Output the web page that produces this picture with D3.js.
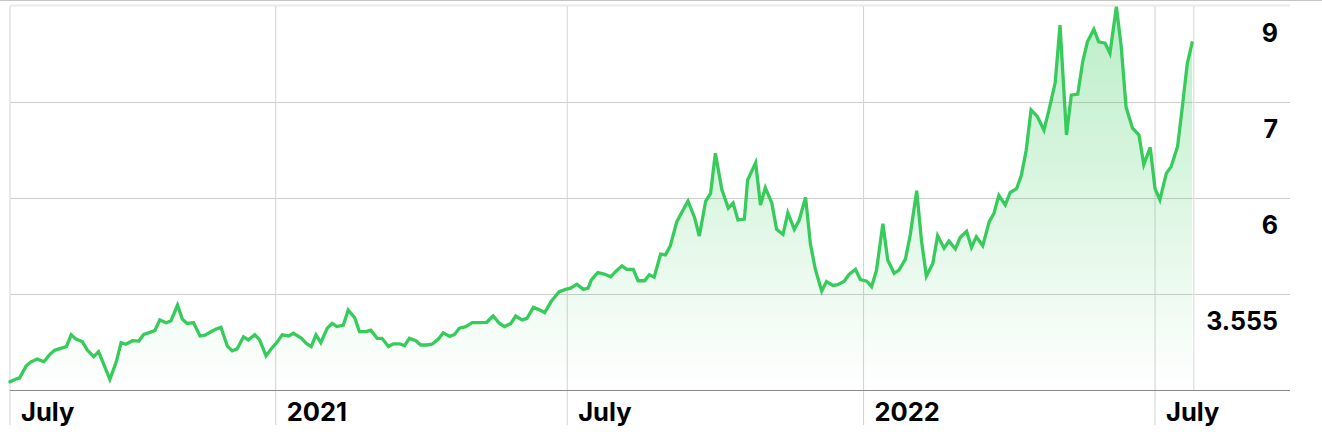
<!DOCTYPE html>
<html><head><meta charset="utf-8">
<script src="https://cdn.jsdelivr.net/npm/d3@7"></script>
<style>html,body{margin:0;padding:0;background:#fff;overflow:hidden}</style>
</head><body><svg id="chart" width="1322" height="438"></svg>
<script>
// ---- data ----
const startDate = "2020-07-20";
const endDay = 735; // last day of the time window
const dayOffsets = [0,3,6,10,13,17,21,25,28,32,35,38,41,45,48,52,55,59,62,66,69,72,76,80,83,86,90,93,97,100,104,107,110,114,118,121,124,128,131,135,138,141,145,148,152,155,159,162,166,169,173,176,181,184,187,190,193,197,200,203,207,210,214,217,221,224,228,231,235,238,242,245,248,252,255,259,262,266,269,273,276,279,283,287,291,296,300,304,307,311,314,318,321,325,328,332,336,341,345,348,352,356,359,361,365,369,373,376,380,383,387,390,394,397,400,404,407,410,414,417,421,425,428,432,435,438,442,446,449,452,456,458,463,466,469,473,476,480,483,487,490,494,497,500,504,507,511,514,518,521,525,528,532,535,538,542,545,549,552,556,559,563,566,569,573,576,580,583,587,590,594,597,600,604,608,611,614,618,621,625,628,631,634,638,642,645,649,652,656,659,663,666,669,673,676,680,683,687,690,693,697,701,704,708,711,714,718,721,725,728,731,734];
const prices = [1.32,1.38,1.42,1.72,1.83,1.90,1.83,2.03,2.13,2.18,2.22,2.52,2.41,2.34,2.13,1.96,2.09,1.69,1.38,1.83,2.32,2.28,2.37,2.36,2.53,2.57,2.63,2.90,2.83,2.88,3.28,2.92,2.81,2.83,2.49,2.51,2.58,2.67,2.71,2.23,2.11,2.16,2.47,2.39,2.52,2.39,1.98,2.15,2.34,2.52,2.49,2.56,2.43,2.30,2.22,2.52,2.32,2.69,2.81,2.73,2.77,3.15,2.96,2.60,2.60,2.64,2.43,2.43,2.22,2.29,2.29,2.24,2.43,2.37,2.26,2.26,2.28,2.41,2.57,2.48,2.53,2.69,2.73,2.83,2.83,2.84,3.00,2.81,2.73,2.81,3.00,2.90,2.94,3.22,3.17,3.09,3.37,3.62,3.68,3.71,3.81,3.68,3.71,3.92,4.11,4.07,4.00,4.13,4.28,4.19,4.19,3.90,3.90,4.05,3.99,4.58,4.56,4.79,5.40,5.63,5.93,5.52,5.04,5.93,6.05,6.47,6.09,5.75,5.88,5.45,5.47,6.19,6.37,5.83,6.11,5.89,5.21,5.08,5.63,5.21,5.44,6.01,4.84,4.20,3.64,3.88,3.78,3.80,3.89,4.06,4.19,3.93,3.89,3.75,4.16,5.35,4.43,4.09,4.17,4.45,5.07,6.08,4.91,4.02,4.34,5.05,4.73,4.91,4.71,5.00,5.16,4.75,5.02,4.79,5.40,5.62,6.03,5.83,6.06,6.10,6.24,6.50,6.92,6.85,6.71,6.91,7.41,8.61,6.66,7.15,7.17,7.83,8.26,8.52,8.26,8.23,8.02,8.99,8.16,6.95,6.73,6.66,6.35,6.53,6.10,5.96,6.26,6.33,6.54,6.96,7.80,8.24];
const xTickDates = ["2020-07-20","2021-01-01","2021-07-01","2022-01-01","2022-07-01"];
const xTickLabels = ["July","2021","July","2022","July"];
const yTickValues = [9, 7, 6, 3.555];
const yDomain = [1.11, 3.555, 6, 7, 9];

// ---- layout ----
const W = 1322, H = 438;
const pLeft = 10, pRight = 1193.7, gridRight = 1290;
const pTop = 6.3, pBottom = 390;
const green = "#36cb5a";

const parse = d3.utcParse("%Y-%m-%d");
const t0 = parse(startDate);
const x = d3.scaleUtc().domain([t0, d3.utcDay.offset(t0, endDay)]).range([pLeft, pRight]);
const y = d3.scaleLinear().domain(yDomain).range([pBottom, 294.3, 198.3, 102.3, pTop]);

const data = dayOffsets.map((d, i) => ({date: d3.utcDay.offset(t0, d), v: prices[i]}));

const svg = d3.select("#chart");
const font = "Inter, 'Noto Sans', sans-serif";

// top border
svg.append("line").attr("x1", 0).attr("x2", W).attr("y1", 0.5).attr("y2", 0.5)
  .attr("stroke", "#c4c4c4").attr("stroke-width", 1);
svg.append("line").attr("x1", pLeft).attr("x2", gridRight).attr("y1", pTop - 0.8).attr("y2", pTop - 0.8)
  .attr("stroke", "#e9e9e9").attr("stroke-width", 2);

// horizontal gridlines
svg.append("g").selectAll("line").data(yTickValues.filter(v => v !== 9)).join("line")
  .attr("x1", pLeft).attr("x2", gridRight)
  .attr("y1", d => Math.round(y(d)) + 0.5).attr("y2", d => Math.round(y(d)) + 0.5)
  .attr("stroke", "#cdcdcd").attr("stroke-width", 1);

// vertical tick gridlines
const tickDates = xTickDates.map(parse);
svg.append("g").selectAll("line").data(tickDates).join("line")
  .attr("x1", d => x(d)).attr("x2", d => x(d))
  .attr("y1", pTop).attr("y2", 425)
  .attr("stroke", (d, i) => i === 0 ? "#e2e2e2" : "#d2d2d2").attr("stroke-width", (d, i) => i === 0 ? 1.5 : 1);

// end-of-data line
svg.append("line").attr("x1", x.range()[1]).attr("x2", x.range()[1]).attr("y1", pTop).attr("y2", pBottom)
  .attr("stroke", "#e3e3e3").attr("stroke-width", 1.5);

// gradient
const defs = svg.append("defs");
const grad = defs.append("linearGradient").attr("id", "fillGrad")
  .attr("gradientUnits", "userSpaceOnUse").attr("x1", 0).attr("x2", 0).attr("y1", pTop).attr("y2", pBottom);
grad.append("stop").attr("offset", "0%").attr("stop-color", green).attr("stop-opacity", 0.34);
grad.append("stop").attr("offset", "100%").attr("stop-color", green).attr("stop-opacity", 0.0);

const area = d3.area().x(d => x(d.date)).y0(pBottom).y1(d => y(d.v));
svg.append("path").datum(data).attr("d", area).attr("fill", "url(#fillGrad)");

// bottom axis line
svg.append("line").attr("x1", pLeft).attr("x2", gridRight).attr("y1", pBottom + 0.5).attr("y2", pBottom + 0.5)
  .attr("stroke", "#8a8a8a").attr("stroke-width", 1);

const line = d3.line().x(d => x(d.date)).y(d => y(d.v));
svg.append("path").datum(data).attr("d", line).attr("fill", "none")
  .attr("stroke", green).attr("stroke-width", 3.3).attr("stroke-linejoin", "miter").attr("stroke-linecap", "round");

// y labels (below each gridline)
svg.append("g").selectAll("text").data(yTickValues).join("text")
  .attr("x", 1278).attr("y", d => y(d) + 35.5)
  .attr("text-anchor", "end")
  .attr("font-family", font).attr("font-weight", 700).attr("font-size", 25).attr("fill", "#000")
  .text(d => d3.format("")(d));

// x labels
svg.append("g").selectAll("text").data(tickDates).join("text")
  .attr("x", d => x(d) + 11).attr("y", 420.5)
  .attr("font-family", font).attr("font-weight", 700).attr("font-size", 25.5).attr("fill", "#000")
  .text((d, i) => xTickLabels[i]);
</script></body></html>
